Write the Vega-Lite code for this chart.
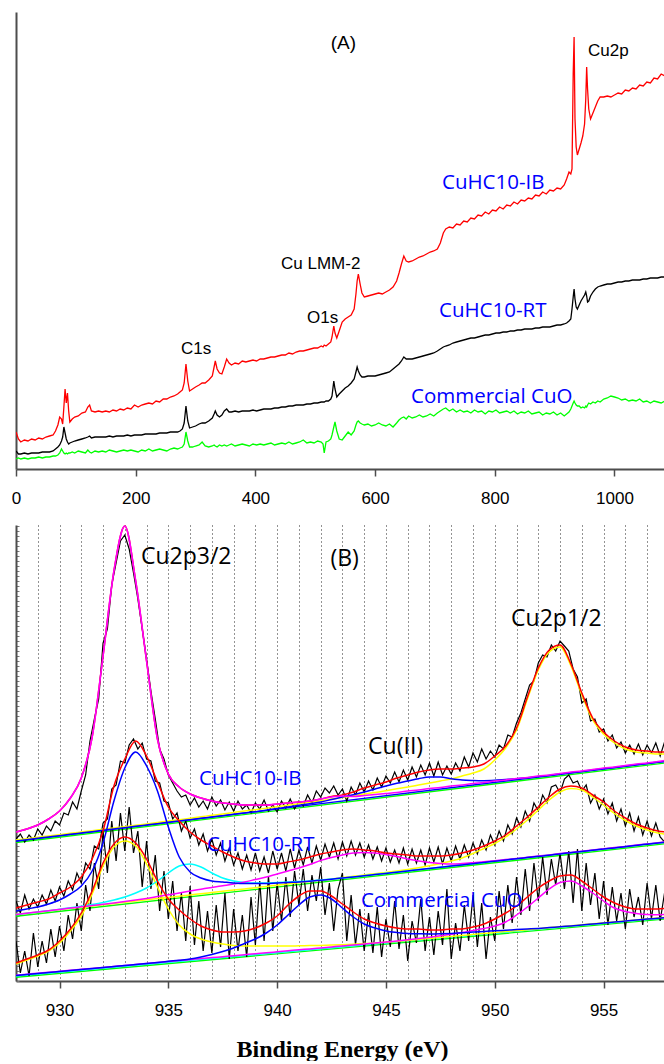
{
"$schema":"https://vega.github.io/schema/vega-lite/v6.json",
"background":"white",
"padding":{"left":11,"top":12,"right":0,"bottom":0},
"spacing":56,
"bounds":"flush",
"config":{"view":{"stroke":null},"axis":{"labelFont":"Liberation Sans","labelFontSize":17,"labelColor":"#000000","domainColor":"#4d4d4d","domainWidth":2,"tickColor":"#4d4d4d","tickWidth":1.5}},
"datasets":{
"a":[
{"x":0,"r":37,"k":18,"g":10},{"x":4,"r":30,"k":15,"g":11},{"x":8,"r":27,"k":15,"g":10},{"x":14,"r":29,"k":16,"g":11},{"x":20,"r":28,"k":15,"g":10},{"x":26,"r":30,"k":16,"g":11},{"x":32,"r":29,"k":16,"g":11},{"x":38,"r":31,"k":16,"g":12},{"x":44,"r":30,"k":17,"g":11},{"x":50,"r":32,"k":17,"g":12},{"x":56,"r":33,"k":17,"g":12},{"x":62,"r":34,"k":18,"g":13},{"x":66,"r":38,"k":20,"g":13},{"x":70,"r":44,"k":22,"g":14},{"x":73,"r":52,"k":24,"g":16},{"x":76,"r":50,"k":28,"g":20},{"x":78,"r":45,"k":32,"g":18},{"x":80,"r":62,"k":42,"g":16},{"x":82,"r":80,"k":36,"g":15},{"x":84,"r":66,"k":30,"g":16},{"x":86,"r":76,"k":27,"g":15},{"x":88,"r":58,"k":25,"g":16},{"x":90,"r":47,"k":26,"g":16},{"x":94,"r":50,"k":27,"g":17},{"x":98,"r":52,"k":28,"g":16},{"x":104,"r":53,"k":29,"g":18},{"x":110,"r":56,"k":30,"g":17},{"x":116,"r":57,"k":31,"g":16},{"x":120,"r":62,"k":32,"g":19},{"x":123,"r":64,"k":33,"g":17},{"x":126,"r":58,"k":31,"g":16},{"x":132,"r":57,"k":32,"g":18},{"x":138,"r":58,"k":32,"g":17},{"x":144,"r":57,"k":32,"g":18},{"x":150,"r":58,"k":32,"g":17},{"x":156,"r":57,"k":33,"g":19},{"x":162,"r":59,"k":32,"g":18},{"x":168,"r":58,"k":33,"g":17},{"x":174,"r":60,"k":33,"g":18},{"x":180,"r":59,"k":33,"g":19},{"x":186,"r":61,"k":34,"g":18},{"x":192,"r":60,"k":33,"g":19},{"x":198,"r":64,"k":34,"g":18},{"x":204,"r":62,"k":34,"g":17},{"x":210,"r":64,"k":34,"g":19},{"x":216,"r":65,"k":35,"g":18},{"x":222,"r":66,"k":35,"g":20},{"x":228,"r":65,"k":35,"g":18},{"x":234,"r":68,"k":35,"g":19},{"x":240,"r":67,"k":36,"g":20},{"x":246,"r":70,"k":36,"g":19},{"x":252,"r":70,"k":36,"g":18},{"x":258,"r":72,"k":37,"g":20},{"x":264,"r":73,"k":37,"g":21},{"x":270,"r":75,"k":37,"g":20},{"x":274,"r":77,"k":38,"g":21},{"x":278,"r":79,"k":40,"g":22},{"x":281,"r":86,"k":46,"g":25},{"x":284,"r":105,"k":63,"g":37},{"x":287,"r":88,"k":48,"g":28},{"x":290,"r":78,"k":41,"g":22},{"x":295,"r":80,"k":42,"g":22},{"x":300,"r":82,"k":43,"g":23},{"x":306,"r":84,"k":45,"g":24},{"x":311,"r":86,"k":46,"g":27},{"x":316,"r":86,"k":46,"g":23},{"x":322,"r":89,"k":48,"g":22},{"x":328,"r":93,"k":51,"g":23},{"x":331,"r":102,"k":55,"g":24},{"x":333,"r":108,"k":58,"g":23},{"x":336,"r":100,"k":54,"g":22},{"x":340,"r":96,"k":52,"g":24},{"x":344,"r":95,"k":54,"g":23},{"x":348,"r":102,"k":58,"g":24},{"x":352,"r":110,"k":60,"g":23},{"x":356,"r":106,"k":57,"g":24},{"x":360,"r":104,"k":57,"g":25},{"x":366,"r":106,"k":58,"g":23},{"x":372,"r":105,"k":57,"g":24},{"x":378,"r":108,"k":58,"g":25},{"x":384,"r":107,"k":58,"g":24},{"x":390,"r":108,"k":58,"g":23},{"x":396,"r":109,"k":59,"g":25},{"x":402,"r":108,"k":58,"g":24},{"x":408,"r":110,"k":59,"g":25},{"x":414,"r":110,"k":60,"g":24},{"x":420,"r":111,"k":60,"g":25},{"x":426,"r":112,"k":60,"g":26},{"x":432,"r":112,"k":61,"g":24},{"x":438,"r":113,"k":61,"g":25},{"x":444,"r":114,"k":62,"g":26},{"x":450,"r":114,"k":62,"g":25},{"x":456,"r":116,"k":63,"g":27},{"x":462,"r":115,"k":63,"g":25},{"x":468,"r":117,"k":64,"g":26},{"x":474,"r":118,"k":64,"g":27},{"x":480,"r":118,"k":64,"g":29},{"x":486,"r":119,"k":65,"g":26},{"x":492,"r":120,"k":65,"g":27},{"x":498,"r":121,"k":66,"g":26},{"x":504,"r":121,"k":66,"g":28},{"x":510,"r":123,"k":67,"g":27},{"x":513,"r":122,"k":67,"g":25},{"x":515,"r":124,"k":67,"g":16},{"x":518,"r":123,"k":68,"g":27},{"x":522,"r":125,"k":68,"g":28},{"x":526,"r":127,"k":70,"g":30},{"x":528,"r":132,"k":73,"g":34},{"x":531,"r":143,"k":88,"g":42},{"x":533,"r":136,"k":80,"g":47},{"x":536,"r":131,"k":72,"g":38},{"x":540,"r":138,"k":75,"g":30},{"x":545,"r":147,"k":78,"g":29},{"x":550,"r":150,"k":81,"g":33},{"x":555,"r":152,"k":83,"g":37},{"x":560,"r":154,"k":86,"g":34},{"x":565,"r":160,"k":90,"g":38},{"x":568,"r":175,"k":97,"g":44},{"x":570,"r":188,"k":102,"g":47},{"x":572,"r":195,"k":98,"g":48},{"x":575,"r":185,"k":94,"g":46},{"x":578,"r":176,"k":92,"g":45},{"x":582,"r":172,"k":92,"g":44},{"x":588,"r":173,"k":93,"g":45},{"x":594,"r":174,"k":93,"g":43},{"x":600,"r":175,"k":93,"g":44},{"x":606,"r":176,"k":94,"g":46},{"x":612,"r":175,"k":95,"g":44},{"x":618,"r":177,"k":96,"g":43},{"x":624,"r":179,"k":97,"g":45},{"x":630,"r":182,"k":100,"g":42},{"x":636,"r":188,"k":103,"g":46},{"x":640,"r":196,"k":105,"g":49},{"x":644,"r":205,"k":108,"g":51},{"x":648,"r":213,"k":112,"g":52},{"x":652,"r":208,"k":110,"g":50},{"x":656,"r":207,"k":110,"g":53},{"x":662,"r":208,"k":110,"g":51},{"x":668,"r":210,"k":111,"g":52},{"x":674,"r":212,"k":112,"g":54},{"x":680,"r":213,"k":113,"g":52},{"x":686,"r":215,"k":114,"g":53},{"x":692,"r":217,"k":115,"g":55},{"x":698,"r":218,"k":116,"g":53},{"x":704,"r":220,"k":118,"g":56},{"x":709,"r":226,"k":120,"g":58},{"x":714,"r":236,"k":122,"g":60},{"x":718,"r":240,"k":123,"g":61},{"x":724,"r":242,"k":124,"g":58},{"x":730,"r":241,"k":126,"g":60},{"x":736,"r":245,"k":127,"g":57},{"x":742,"r":244,"k":128,"g":59},{"x":748,"r":248,"k":129,"g":57},{"x":754,"r":247,"k":130,"g":58},{"x":760,"r":251,"k":131,"g":56},{"x":766,"r":250,"k":131,"g":59},{"x":772,"r":254,"k":132,"g":57},{"x":778,"r":253,"k":133,"g":58},{"x":784,"r":257,"k":134,"g":55},{"x":790,"r":255,"k":134,"g":58},{"x":796,"r":259,"k":135,"g":57},{"x":802,"r":258,"k":136,"g":59},{"x":808,"r":262,"k":136,"g":56},{"x":814,"r":260,"k":137,"g":57},{"x":820,"r":264,"k":137,"g":58},{"x":826,"r":263,"k":138,"g":56},{"x":832,"r":267,"k":138,"g":58},{"x":838,"r":265,"k":139,"g":55},{"x":844,"r":269,"k":139,"g":57},{"x":850,"r":268,"k":140,"g":56},{"x":856,"r":271,"k":140,"g":58},{"x":862,"r":270,"k":140,"g":55},{"x":868,"r":274,"k":141,"g":56},{"x":874,"r":273,"k":141,"g":57},{"x":880,"r":277,"k":142,"g":54},{"x":886,"r":275,"k":142,"g":56},{"x":892,"r":279,"k":142,"g":55},{"x":898,"r":278,"k":143,"g":57},{"x":904,"r":281,"k":144,"g":54},{"x":910,"r":280,"k":144,"g":56},{"x":916,"r":284,"k":145,"g":53},{"x":920,"r":290,"k":146,"g":55},{"x":924,"r":297,"k":148,"g":57},{"x":927,"r":295,"k":150,"g":60},{"x":929,"r":300,"k":160,"g":63},{"x":931,"r":395,"k":172,"g":66},{"x":932.5,"r":432,"k":180,"g":68},{"x":934,"r":350,"k":170,"g":66},{"x":936,"r":322,"k":162,"g":64},{"x":938,"r":314,"k":160,"g":63},{"x":941,"r":320,"k":164,"g":63},{"x":944,"r":326,"k":168,"g":61},{"x":947,"r":333,"k":171,"g":62},{"x":950,"r":345,"k":174,"g":61},{"x":952,"r":370,"k":177,"g":63},{"x":953.5,"r":402,"k":173,"g":62},{"x":955,"r":380,"k":167,"g":64},{"x":957,"r":360,"k":168,"g":66},{"x":960,"r":350,"k":173,"g":65},{"x":964,"r":356,"k":177,"g":67},{"x":968,"r":362,"k":180,"g":66},{"x":972,"r":368,"k":182,"g":68},{"x":976,"r":372,"k":183,"g":67},{"x":982,"r":372,"k":184,"g":70},{"x":988,"r":373,"k":185,"g":71},{"x":994,"r":372,"k":185,"g":73},{"x":1000,"r":374,"k":186,"g":72},{"x":1006,"r":376,"k":187,"g":71},{"x":1012,"r":375,"k":187,"g":69},{"x":1018,"r":379,"k":188,"g":70},{"x":1024,"r":378,"k":188,"g":68},{"x":1030,"r":381,"k":189,"g":69},{"x":1036,"r":380,"k":189,"g":68},{"x":1042,"r":384,"k":189,"g":70},{"x":1048,"r":383,"k":190,"g":67},{"x":1054,"r":387,"k":190,"g":68},{"x":1060,"r":386,"k":191,"g":66},{"x":1066,"r":391,"k":191,"g":68},{"x":1072,"r":390,"k":191,"g":67},{"x":1078,"r":395,"k":192,"g":66},{"x":1084,"r":393,"k":192,"g":68},{"x":1089,"r":397,"k":192,"g":67}
],
"ta1":[{"x":955.7,"y":413,"t":"Cu2p"},{"x":442.8,"y":200,"t":"Cu LMM-2"},{"x":486.2,"y":146,"t":"O1s"},{"x":275.7,"y":115,"t":"C1s"}],
"ta2":[{"x":525.8,"y":420,"t":"(A)"}],
"ta3":[{"x":711.8,"y":280.5,"t":"CuHC10-IB"},{"x":706.8,"y":151.7,"t":"CuHC10-RT"},{"x":660,"y":66,"t":"Commercial CuO"}],
"braw":[
{"x":928.0,"ib":142,"rt":80,"cu":40},{"x":928.2,"ib":147,"rt":68,"cu":8},{"x":928.4,"ib":139,"rt":86,"cu":30},{"x":928.6,"ib":146,"rt":72,"cu":5},{"x":928.8,"ib":141,"rt":82,"cu":48},{"x":929.0,"ib":152,"rt":74,"cu":14},{"x":929.2,"ib":146,"rt":86,"cu":40},{"x":929.4,"ib":155,"rt":77,"cu":18},{"x":929.6,"ib":150,"rt":91,"cu":52},{"x":929.8,"ib":160,"rt":80,"cu":24},
{"x":930.0,"ib":156,"rt":94,"cu":55},{"x":930.2,"ib":168,"rt":85,"cu":30},{"x":930.4,"ib":166,"rt":100,"cu":66},{"x":930.6,"ib":179,"rt":91,"cu":42},{"x":930.8,"ib":172,"rt":108,"cu":78},{"x":931.0,"ib":190,"rt":98,"cu":50},{"x":931.2,"ib":206,"rt":118,"cu":96},{"x":931.4,"ib":240,"rt":112,"cu":70},{"x":931.6,"ib":262,"rt":135,"cu":118},{"x":931.8,"ib":282,"rt":132,"cu":92},
{"x":932.0,"ib":338,"rt":158,"cu":150},{"x":932.2,"ib":352,"rt":162,"cu":108},{"x":932.4,"ib":396,"rt":192,"cu":160},{"x":932.6,"ib":418,"rt":196,"cu":120},{"x":932.8,"ib":440,"rt":220,"cu":168},{"x":933.0,"ib":446,"rt":218,"cu":130},{"x":933.2,"ib":432,"rt":236,"cu":174},{"x":933.4,"ib":408,"rt":242,"cu":128},{"x":933.6,"ib":382,"rt":232,"cu":150},{"x":933.8,"ib":352,"rt":238,"cu":94},
{"x":934.0,"ib":322,"rt":222,"cu":140},{"x":934.2,"ib":290,"rt":220,"cu":92},{"x":934.4,"ib":262,"rt":200,"cu":126},{"x":934.6,"ib":232,"rt":198,"cu":70},{"x":934.8,"ib":222,"rt":180,"cu":110},{"x":935.0,"ib":206,"rt":178,"cu":62},{"x":935.2,"ib":198,"rt":162,"cu":100},{"x":935.4,"ib":190,"rt":168,"cu":50},{"x":935.6,"ib":184,"rt":150,"cu":88},{"x":935.8,"ib":186,"rt":160,"cu":40},
{"x":936.0,"ib":176,"rt":143,"cu":95},{"x":936.2,"ib":183,"rt":152,"cu":36},{"x":936.4,"ib":174,"rt":136,"cu":80},{"x":936.6,"ib":180,"rt":147,"cu":30},{"x":936.8,"ib":172,"rt":130,"cu":70},{"x":937.0,"ib":184,"rt":142,"cu":28},{"x":937.2,"ib":175,"rt":126,"cu":76},{"x":937.4,"ib":181,"rt":138,"cu":34},{"x":937.6,"ib":171,"rt":120,"cu":88},{"x":937.8,"ib":179,"rt":133,"cu":22},
{"x":938.0,"ib":170,"rt":116,"cu":72},{"x":938.2,"ib":180,"rt":128,"cu":30},{"x":938.4,"ib":172,"rt":112,"cu":66},{"x":938.6,"ib":176,"rt":126,"cu":24},{"x":938.8,"ib":168,"rt":111,"cu":84},{"x":939.0,"ib":178,"rt":128,"cu":36},{"x":939.2,"ib":172,"rt":110,"cu":100},{"x":939.4,"ib":181,"rt":124,"cu":40},{"x":939.6,"ib":170,"rt":108,"cu":105},{"x":939.8,"ib":176,"rt":130,"cu":50},
{"x":940.0,"ib":169,"rt":112,"cu":98},{"x":940.2,"ib":180,"rt":128,"cu":60},{"x":940.4,"ib":173,"rt":110,"cu":104},{"x":940.6,"ib":182,"rt":132,"cu":64},{"x":940.8,"ib":172,"rt":113,"cu":110},{"x":941.0,"ib":180,"rt":131,"cu":76},{"x":941.2,"ib":175,"rt":116,"cu":112},{"x":941.4,"ib":186,"rt":134,"cu":70},{"x":941.6,"ib":178,"rt":118,"cu":106},{"x":941.8,"ib":190,"rt":135,"cu":80},
{"x":942.0,"ib":184,"rt":121,"cu":114},{"x":942.2,"ib":193,"rt":137,"cu":66},{"x":942.4,"ib":188,"rt":124,"cu":98},{"x":942.6,"ib":195,"rt":138,"cu":50},{"x":942.8,"ib":186,"rt":122,"cu":92},{"x":943.0,"ib":192,"rt":139,"cu":108},{"x":943.2,"ib":180,"rt":125,"cu":40},{"x":943.4,"ib":194,"rt":140,"cu":86},{"x":943.6,"ib":186,"rt":126,"cu":36},{"x":943.8,"ib":198,"rt":138,"cu":72},
{"x":944.0,"ib":189,"rt":124,"cu":30},{"x":944.2,"ib":200,"rt":136,"cu":68},{"x":944.4,"ib":191,"rt":122,"cu":28},{"x":944.6,"ib":203,"rt":134,"cu":74},{"x":944.8,"ib":194,"rt":120,"cu":24},{"x":945.0,"ib":205,"rt":133,"cu":62},{"x":945.2,"ib":198,"rt":119,"cu":34},{"x":945.4,"ib":209,"rt":131,"cu":80},{"x":945.6,"ib":199,"rt":118,"cu":32},{"x":945.8,"ib":211,"rt":133,"cu":66},
{"x":946.0,"ib":201,"rt":117,"cu":20},{"x":946.2,"ib":214,"rt":132,"cu":60},{"x":946.4,"ib":204,"rt":118,"cu":38},{"x":946.6,"ib":216,"rt":131,"cu":82},{"x":946.8,"ib":206,"rt":116,"cu":30},{"x":947.0,"ib":218,"rt":133,"cu":64},{"x":947.2,"ib":205,"rt":119,"cu":26},{"x":947.4,"ib":219,"rt":134,"cu":70},{"x":947.6,"ib":206,"rt":117,"cu":36},{"x":947.8,"ib":215,"rt":133,"cu":92},
{"x":948.0,"ib":207,"rt":120,"cu":22},{"x":948.2,"ib":218,"rt":135,"cu":58},{"x":948.4,"ib":210,"rt":122,"cu":30},{"x":948.6,"ib":224,"rt":136,"cu":76},{"x":948.8,"ib":214,"rt":124,"cu":40},{"x":949.0,"ib":228,"rt":138,"cu":86},{"x":949.2,"ib":219,"rt":127,"cu":34},{"x":949.4,"ib":232,"rt":141,"cu":78},{"x":949.6,"ib":222,"rt":131,"cu":22},{"x":949.8,"ib":230,"rt":146,"cu":64},
{"x":950.0,"ib":224,"rt":136,"cu":40},{"x":950.2,"ib":236,"rt":150,"cu":90},{"x":950.4,"ib":232,"rt":140,"cu":52},{"x":950.6,"ib":246,"rt":156,"cu":96},{"x":950.8,"ib":244,"rt":147,"cu":58},{"x":951.0,"ib":258,"rt":163,"cu":104},{"x":951.2,"ib":268,"rt":154,"cu":66},{"x":951.4,"ib":282,"rt":170,"cu":112},{"x":951.6,"ib":296,"rt":160,"cu":70},{"x":951.8,"ib":300,"rt":178,"cu":118},
{"x":952.0,"ib":318,"rt":170,"cu":80},{"x":952.2,"ib":326,"rt":186,"cu":124},{"x":952.4,"ib":324,"rt":178,"cu":86},{"x":952.6,"ib":336,"rt":194,"cu":122},{"x":952.8,"ib":330,"rt":196,"cu":96},{"x":953.0,"ib":340,"rt":188,"cu":128},{"x":953.2,"ib":335,"rt":202,"cu":92},{"x":953.4,"ib":330,"rt":206,"cu":130},{"x":953.6,"ib":312,"rt":198,"cu":78},{"x":953.8,"ib":304,"rt":200,"cu":132},
{"x":954.0,"ib":278,"rt":190,"cu":70},{"x":954.2,"ib":282,"rt":196,"cu":118},{"x":954.4,"ib":260,"rt":178,"cu":76},{"x":954.6,"ib":262,"rt":186,"cu":108},{"x":954.8,"ib":249,"rt":172,"cu":62},{"x":955.0,"ib":252,"rt":182,"cu":100},{"x":955.2,"ib":240,"rt":167,"cu":56},{"x":955.4,"ib":246,"rt":178,"cu":94},{"x":955.6,"ib":233,"rt":160,"cu":60},{"x":955.8,"ib":239,"rt":172,"cu":88},
{"x":956.0,"ib":228,"rt":155,"cu":52},{"x":956.2,"ib":236,"rt":168,"cu":92},{"x":956.4,"ib":227,"rt":150,"cu":64},{"x":956.6,"ib":237,"rt":164,"cu":84},{"x":956.8,"ib":226,"rt":146,"cu":56},{"x":957.0,"ib":236,"rt":160,"cu":98},{"x":957.2,"ib":228,"rt":145,"cu":62},{"x":957.4,"ib":238,"rt":158,"cu":96},{"x":957.6,"ib":225,"rt":144,"cu":60},{"x":957.8,"ib":239,"rt":139,"cu":88},
{"x":958.0,"ib":230,"rt":152,"cu":66}
],
"bfit":[
{"x":928,"ibE":149,"ibM":149,"ibY":141,"ibB":140,"rtE":73,"rtB":70,"rtC":66.5,"rtM":66.5,"rtY":66.8,"cuE":18,"cuY":17,"cuB":5.5,"cuM":5.8},
{"x":928.5,"ibE":152,"ibM":152,"ibY":142.3,"ibB":141.3,"rtE":76,"rtB":72,"rtC":67.7,"rtM":67.8,"rtY":67.8,"cuE":22,"cuY":21,"cuB":6.5,"cuM":6.8},
{"x":929,"ibE":156,"ibM":156,"ibY":143.7,"ibB":142.7,"rtE":79,"rtB":74,"rtC":69,"rtM":69,"rtY":69,"cuE":26,"cuY":25,"cuB":7.5,"cuM":7.8},
{"x":929.5,"ibE":162,"ibM":162,"ibY":145,"ibB":144,"rtE":82,"rtB":77,"rtC":70.3,"rtM":70.3,"rtY":70.2,"cuE":31,"cuY":30,"cuB":8.5,"cuM":8.7},
{"x":930,"ibE":170,"ibM":170,"ibY":146.3,"ibB":145.3,"rtE":88,"rtB":81,"rtC":71.8,"rtM":71.6,"rtY":71.5,"cuE":40,"cuY":38,"cuB":9.5,"cuM":9.7},
{"x":930.5,"ibE":183,"ibM":183,"ibY":147.7,"ibB":146.7,"rtE":94,"rtB":87,"rtC":73.2,"rtM":72.9,"rtY":72.7,"cuE":52,"cuY":50,"cuB":10.5,"cuM":10.7},
{"x":931,"ibE":203,"ibM":203,"ibY":149,"ibB":148,"rtE":104,"rtB":95,"rtC":74.8,"rtM":74.2,"rtY":73.9,"cuE":68,"cuY":65,"cuB":11.5,"cuM":11.7},
{"x":931.5,"ibE":244,"ibM":244,"ibY":150.3,"ibB":149.3,"rtE":122,"rtB":110,"rtC":76.5,"rtM":75.4,"rtY":75.1,"cuE":90,"cuY":87,"cuB":12.5,"cuM":12.6},
{"x":932,"ibE":325,"ibM":325,"ibY":151.7,"ibB":150.7,"rtE":150,"rtB":138,"rtC":78.5,"rtM":76.7,"rtY":76.3,"cuE":118,"cuY":115,"cuB":13.5,"cuM":13.6},
{"x":932.5,"ibE":410,"ibM":410,"ibY":153,"ibB":152,"rtE":195,"rtB":180,"rtC":81,"rtM":78,"rtY":77.5,"cuE":137,"cuY":134,"cuB":14.5,"cuM":14.6},
{"x":933,"ibE":455,"ibM":455,"ibY":154.3,"ibB":153.3,"rtE":222,"rtB":213,"rtC":84,"rtM":79.4,"rtY":78.8,"cuE":144,"cuY":140,"cuB":15.5,"cuM":15.6},
{"x":933.5,"ibE":400,"ibM":400,"ibY":155.7,"ibB":154.7,"rtE":240,"rtB":229,"rtC":88,"rtM":81,"rtY":80,"cuE":138,"cuY":135,"cuB":16.5,"cuM":16.5},
{"x":934,"ibE":320,"ibM":320,"ibY":157,"ibB":156,"rtE":225,"rtB":215,"rtC":93,"rtM":82.6,"rtY":81.2,"cuE":122,"cuY":117,"cuB":17.6,"cuM":17.5},
{"x":934.5,"ibE":242,"ibM":242,"ibY":158.5,"ibB":157.3,"rtE":199,"rtB":190,"rtC":100,"rtM":84.4,"rtY":82.4,"cuE":100,"cuY":94,"cuB":18.6,"cuM":18.5},
{"x":935,"ibE":207,"ibM":207,"ibY":160,"ibB":158.7,"rtE":174,"rtB":154,"rtC":108,"rtM":86.2,"rtY":83.6,"cuE":82,"cuY":72,"cuB":19.7,"cuM":19.5},
{"x":935.5,"ibE":194,"ibM":194,"ibY":161.3,"ibB":160,"rtE":160,"rtB":124,"rtC":115,"rtM":88,"rtY":84.8,"cuE":71,"cuY":56,"cuB":20.8,"cuM":20.4},
{"x":936,"ibE":187,"ibM":187,"ibY":162.8,"ibB":161.3,"rtE":149,"rtB":109,"rtC":117,"rtM":90,"rtY":86,"cuE":62,"cuY":47,"cuB":22,"cuM":21.4},
{"x":936.5,"ibE":183,"ibM":183,"ibY":164.2,"ibB":162.7,"rtE":141,"rtB":103,"rtC":114,"rtM":91.8,"rtY":87.3,"cuE":55,"cuY":42,"cuB":24,"cuM":22.4},
{"x":937,"ibE":180,"ibM":180,"ibY":165.7,"ibB":164,"rtE":135,"rtB":100,"rtC":108,"rtM":93.6,"rtY":88.5,"cuE":51,"cuY":39,"cuB":26.5,"cuM":23.4},
{"x":937.5,"ibE":178,"ibM":178,"ibY":167,"ibB":165.3,"rtE":129,"rtB":99,"rtC":103,"rtM":95.3,"rtY":89.7,"cuE":49,"cuY":37,"cuB":29.5,"cuM":24.3},
{"x":938,"ibE":177,"ibM":177,"ibY":168.5,"ibB":166.7,"rtE":124,"rtB":98,"rtC":100,"rtM":97,"rtY":90.9,"cuE":49,"cuY":35.5,"cuB":33,"cuM":25.3},
{"x":938.5,"ibE":176,"ibM":176,"ibY":170,"ibB":168,"rtE":120,"rtB":97.5,"rtC":98.5,"rtM":99,"rtY":92.1,"cuE":50,"cuY":35,"cuB":37.5,"cuM":26.3},
{"x":939,"ibE":176,"ibM":176,"ibY":171.3,"ibB":169.3,"rtE":118,"rtB":97.5,"rtC":98,"rtM":101.5,"rtY":93.3,"cuE":53,"cuY":35,"cuB":42,"cuM":27.3},
{"x":939.5,"ibE":176,"ibM":176,"ibY":172.8,"ibB":170.7,"rtE":117,"rtB":97.5,"rtC":98,"rtM":104,"rtY":94.6,"cuE":58,"cuY":35,"cuB":48,"cuM":28.2},
{"x":940,"ibE":177,"ibM":177,"ibY":174.2,"ibB":172.5,"rtE":117,"rtB":98,"rtC":98.5,"rtM":107,"rtY":95.8,"cuE":65,"cuY":35,"cuB":56,"cuM":29.2},
{"x":940.5,"ibE":178,"ibM":178,"ibY":175.7,"ibB":174,"rtE":119,"rtB":98.5,"rtC":99,"rtM":110,"rtY":97,"cuE":76,"cuY":35,"cuB":66,"cuM":30.2},
{"x":941,"ibE":179,"ibM":179,"ibY":177.2,"ibB":175.7,"rtE":121,"rtB":99,"rtC":99.5,"rtM":113,"rtY":98.3,"cuE":85,"cuY":35.2,"cuB":76,"cuM":31.2},
{"x":941.5,"ibE":180,"ibM":180,"ibY":178.7,"ibB":177.3,"rtE":124,"rtB":99.8,"rtC":100,"rtM":116.5,"rtY":99.5,"cuE":90,"cuY":35.4,"cuB":84,"cuM":32.1},
{"x":942,"ibE":182,"ibM":182,"ibY":180.3,"ibB":179,"rtE":127,"rtB":100.8,"rtC":101,"rtM":120.5,"rtY":100.8,"cuE":90,"cuY":35.6,"cuB":86,"cuM":33.1},
{"x":942.5,"ibE":184.5,"ibM":184,"ibY":181.9,"ibB":181.5,"rtE":129,"rtB":101.8,"rtC":102,"rtM":123.5,"rtY":102,"cuE":85,"cuY":35.9,"cuB":82,"cuM":34.1},
{"x":943,"ibE":186,"ibM":185,"ibY":183.5,"ibB":184,"rtE":131,"rtB":103,"rtC":103,"rtM":126,"rtY":103.4,"cuE":77,"cuY":36.3,"cuB":73,"cuM":35.1},
{"x":943.5,"ibE":189,"ibM":184.5,"ibY":185.2,"ibB":186.3,"rtE":132,"rtB":104,"rtC":104.1,"rtM":128,"rtY":104.7,"cuE":69,"cuY":36.8,"cuB":64,"cuM":36},
{"x":944,"ibE":193,"ibM":185.5,"ibY":187,"ibB":189,"rtE":131,"rtB":105.2,"rtC":105.3,"rtM":128.5,"rtY":106,"cuE":62,"cuY":37.4,"cuB":57,"cuM":37},
{"x":944.5,"ibE":196,"ibM":186.5,"ibY":188.5,"ibB":192,"rtE":130,"rtB":106.4,"rtC":106.5,"rtM":128,"rtY":107.3,"cuE":58,"cuY":38,"cuB":53,"cuM":38},
{"x":945,"ibE":199,"ibM":187.5,"ibY":190.3,"ibB":195,"rtE":128,"rtB":107.6,"rtC":107.7,"rtM":126.5,"rtY":108.6,"cuE":55,"cuY":38.7,"cuB":50,"cuM":39},
{"x":945.5,"ibE":203,"ibM":188.5,"ibY":192.2,"ibB":197.7,"rtE":127,"rtB":108.8,"rtC":108.9,"rtM":124.5,"rtY":110,"cuE":53,"cuY":39.6,"cuB":48.5,"cuM":40},
{"x":946,"ibE":206,"ibM":190,"ibY":194,"ibB":200,"rtE":126,"rtB":110,"rtC":110.1,"rtM":122,"rtY":111.5,"cuE":52,"cuY":40.6,"cuB":47.5,"cuM":41.2},
{"x":946.5,"ibE":209,"ibM":191,"ibY":196,"ibB":202.3,"rtE":125,"rtB":111.3,"rtC":111.4,"rtM":120,"rtY":113.2,"cuE":52,"cuY":41.6,"cuB":47.2,"cuM":42.5},
{"x":947,"ibE":211,"ibM":192.5,"ibY":198,"ibB":204,"rtE":125,"rtB":112.5,"rtC":112.6,"rtM":118.5,"rtY":115.2,"cuE":51,"cuY":42.6,"cuB":47,"cuM":43.8},
{"x":947.5,"ibE":212,"ibM":193.5,"ibY":200,"ibB":204,"rtE":125,"rtB":113.7,"rtC":113.8,"rtM":117.5,"rtY":117.5,"cuE":51,"cuY":43.5,"cuB":47.2,"cuM":45.2},
{"x":948,"ibE":212,"ibM":195,"ibY":202,"ibB":202.3,"rtE":126,"rtB":114.9,"rtC":115,"rtM":117,"rtY":120,"cuE":52,"cuY":44.5,"cuB":47.6,"cuM":46.8},
{"x":948.5,"ibE":213,"ibM":196,"ibY":205,"ibB":201,"rtE":128,"rtB":116.1,"rtC":116.2,"rtM":117.5,"rtY":123,"cuE":52,"cuY":45.5,"cuB":48.2,"cuM":48.5},
{"x":949,"ibE":214,"ibM":197.5,"ibY":208,"ibB":200.5,"rtE":131,"rtB":117.3,"rtC":117.4,"rtM":118.3,"rtY":127.5,"cuE":54,"cuY":46.5,"cuB":49,"cuM":50.5},
{"x":949.5,"ibE":217,"ibM":198.5,"ibY":212,"ibB":200.3,"rtE":135,"rtB":118.5,"rtC":118.6,"rtM":119.2,"rtY":132.5,"cuE":57,"cuY":47.4,"cuB":49.5,"cuM":52.5},
{"x":950,"ibE":225,"ibM":200,"ibY":221,"ibB":200.7,"rtE":140,"rtB":119.8,"rtC":119.9,"rtM":120.3,"rtY":137.5,"cuE":62,"cuY":48.4,"cuB":50.2,"cuM":55},
{"x":950.5,"ibE":235,"ibM":201,"ibY":233,"ibB":201.5,"rtE":146,"rtB":121,"rtC":121.1,"rtM":121.4,"rtY":144,"cuE":68,"cuY":49.4,"cuB":50.8,"cuM":59},
{"x":951,"ibE":253,"ibM":202.5,"ibY":251,"ibB":202.3,"rtE":155,"rtB":122.2,"rtC":122.3,"rtM":122.5,"rtY":152,"cuE":75,"cuY":50.4,"cuB":51.4,"cuM":66},
{"x":951.5,"ibE":284,"ibM":203.5,"ibY":282,"ibB":203.2,"rtE":164,"rtB":123.4,"rtC":123.5,"rtM":123.7,"rtY":161,"cuE":84,"cuY":51.3,"cuB":52,"cuM":74},
{"x":952,"ibE":313,"ibM":205,"ibY":311,"ibB":204.5,"rtE":174,"rtB":124.6,"rtC":124.7,"rtM":124.9,"rtY":171,"cuE":93,"cuY":52.3,"cuB":52.6,"cuM":83},
{"x":952.5,"ibE":331,"ibM":206,"ibY":329,"ibB":205.6,"rtE":184,"rtB":125.8,"rtC":125.9,"rtM":126.1,"rtY":181,"cuE":100,"cuY":53.3,"cuB":53.4,"cuM":92},
{"x":953,"ibE":336,"ibM":207.5,"ibY":334,"ibB":207,"rtE":192,"rtB":127.1,"rtC":127.2,"rtM":127.4,"rtY":189,"cuE":105,"cuY":54.3,"cuB":54.3,"cuM":98.5},
{"x":953.5,"ibE":317,"ibM":209,"ibY":315,"ibB":208.3,"rtE":195,"rtB":128.3,"rtC":128.4,"rtM":128.6,"rtY":192.5,"cuE":106,"cuY":55.2,"cuB":55.1,"cuM":100},
{"x":954,"ibE":288,"ibM":210,"ibY":286,"ibB":209.6,"rtE":193,"rtB":129.5,"rtC":129.6,"rtM":129.8,"rtY":191,"cuE":100,"cuY":56.2,"cuB":56,"cuM":95},
{"x":954.5,"ibE":263,"ibM":211.5,"ibY":261,"ibB":211,"rtE":186,"rtB":130.7,"rtC":130.8,"rtM":131,"rtY":184,"cuE":92,"cuY":57.2,"cuB":57,"cuM":88},
{"x":955,"ibE":249,"ibM":213,"ibY":247,"ibB":212.2,"rtE":179,"rtB":131.9,"rtC":132,"rtM":132.2,"rtY":176,"cuE":84,"cuY":58.2,"cuB":58,"cuM":80},
{"x":955.5,"ibE":240,"ibM":214,"ibY":238,"ibB":213.5,"rtE":170,"rtB":133.1,"rtC":133.2,"rtM":133.4,"rtY":167.5,"cuE":78,"cuY":59.1,"cuB":58.9,"cuM":73},
{"x":956,"ibE":234,"ibM":215.5,"ibY":232,"ibB":214.9,"rtE":163,"rtB":134.3,"rtC":134.4,"rtM":134.6,"rtY":160.5,"cuE":74,"cuY":60.1,"cuB":59.9,"cuM":69.5},
{"x":956.5,"ibE":231,"ibM":217,"ibY":229,"ibB":216.2,"rtE":157,"rtB":135.6,"rtC":135.7,"rtM":135.9,"rtY":155,"cuE":72,"cuY":61.1,"cuB":60.9,"cuM":67.5},
{"x":957,"ibE":230,"ibM":218,"ibY":228,"ibB":217.5,"rtE":153,"rtB":136.8,"rtC":136.9,"rtM":137.1,"rtY":151,"cuE":72,"cuY":62.1,"cuB":61.9,"cuM":66.5},
{"x":957.5,"ibE":229,"ibM":219.5,"ibY":227,"ibB":218.9,"rtE":150,"rtB":138,"rtC":138.1,"rtM":138.3,"rtY":148,"cuE":72,"cuY":63,"cuB":62.8,"cuM":66.3},
{"x":958,"ibE":229,"ibM":221,"ibY":227,"ibB":220.2,"rtE":149,"rtB":139.2,"rtC":139.3,"rtM":139.5,"rtY":146.5,"cuE":73,"cuY":64,"cuB":63.8,"cuM":66.5}
],
"bbase":[
{"x":928,"y":138.5,"id":"ig","c":"g"},{"x":958,"y":218.5,"id":"ig","c":"g"},
{"x":928,"y":140,"id":"ib","c":"b"},{"x":958,"y":220,"id":"ib","c":"b"},
{"x":928,"y":64.8,"id":"rg","c":"g"},{"x":958,"y":137.7,"id":"rg","c":"g"},
{"x":928,"y":3.8,"id":"cg","c":"g"},{"x":958,"y":62.3,"id":"cg","c":"g"},
{"x":928,"y":5,"id":"cc","c":"c"},{"x":958,"y":63.5,"id":"cc","c":"c"}
],
"tb1":[{"x":933.74,"y":417,"t":"Cu2p3/2"},{"x":950.75,"y":355,"t":"Cu2p1/2"},{"x":944.18,"y":227,"t":"Cu(II)"},{"x":942.45,"y":415,"t":"(B)"}],
"tb2":[{"x":936.41,"y":196,"t":"CuHC10-IB"},{"x":936.78,"y":130,"t":"CuHC10-RT"},{"x":943.85,"y":74,"t":"Commercial CuO"}]
},
"vconcat":[
{
"width":652,"height":457,
"encoding":{
"x":{"field":"x","type":"quantitative","scale":{"domain":[0,1089.4],"nice":false,"zero":false},"axis":{"values":[0,200,400,600,800,1000],"format":"d","title":null,"grid":false,"tickSize":7,"labelPadding":14,"labelFlush":false,"labelOverlap":false}},
"y":{"field":"y","type":"quantitative","scale":{"domain":[0,457],"nice":false,"zero":false},"axis":{"title":null,"labels":false,"ticks":false,"grid":false}}
},
"layer":[
{"data":{"name":"a"},"transform":[{"fold":["r","k","g"],"as":["s","y"]}],"mark":{"type":"line","strokeWidth":1.3,"clip":true},
"encoding":{"color":{"field":"s","type":"nominal","scale":{"domain":["g","k","r"],"range":["#00ff00","#000000","#ff0000"]},"legend":null}}},
{"data":{"values":[{}]},"mark":{"type":"rule","color":"#4d4d4d","strokeWidth":2},"encoding":{"x":{"datum":0},"x2":{"datum":1089.4},"y":{"datum":457}}},
{"data":{"name":"ta1"},"mark":{"type":"text","align":"left","baseline":"alphabetic","font":"Liberation Sans","fontSize":17,"color":"#000000"},"encoding":{"text":{"field":"t"}}},
{"data":{"name":"ta2"},"mark":{"type":"text","align":"left","baseline":"alphabetic","font":"Liberation Sans","fontSize":19,"color":"#000000"},"encoding":{"text":{"field":"t"}}},
{"data":{"name":"ta3"},"mark":{"type":"text","align":"left","baseline":"alphabetic","font":"Open Sans","fontSize":20.5,"color":"#0000ff"},"encoding":{"text":{"field":"t"}}}
]
},
{
"width":652,"height":456,
"encoding":{
"x":{"field":"x","type":"quantitative","scale":{"domain":[928,957.96],"nice":false,"zero":false},"axis":{"values":[929,930,931,932,933,934,935,936,937,938,939,940,941,942,943,944,945,946,947,948,949,950,951,952,953,954,955,956,957],"title":"Binding Energy (eV)","titleFont":"Liberation Serif","titleFontSize":24,"titleFontWeight":"bold","titleColor":"#000000","titlePadding":19,"grid":true,"gridDash":[1,3],"gridColor":"#000000","gridOpacity":0.85,"gridWidth":1,"tickSize":7,"tickOpacity":{"condition":{"test":"datum.value % 5 === 0","value":1},"value":0},"labelExpr":"datum.value % 5 === 0 ? datum.label : ''","labelPadding":14,"labelFlush":false,"labelOverlap":false}},
"y":{"field":"y","type":"quantitative","scale":{"domain":[0,456],"nice":false,"zero":false},"axis":{"title":null,"labels":false,"grid":false,"ticks":true,"tickSize":-3,"tickCount":100,"tickColor":"#777777","tickWidth":1}}
},
"layer":[
{"data":{"name":"bbase"},"transform":[{"filter":"datum.c === 'g'"}],"mark":{"type":"line","color":"#00ff00","strokeWidth":1.4,"clip":true},"encoding":{"detail":{"field":"id"}}},
{"data":{"name":"bbase"},"transform":[{"filter":"datum.c === 'c'"}],"mark":{"type":"line","color":"#00ffff","strokeWidth":1.4,"clip":true},"encoding":{"detail":{"field":"id"}}},
{"data":{"name":"bbase"},"transform":[{"filter":"datum.c === 'b'"}],"mark":{"type":"line","color":"#0000ff","strokeWidth":1.4,"clip":true},"encoding":{"detail":{"field":"id"}}},
{"data":{"name":"braw"},"transform":[{"fold":["ib","rt","cu"],"as":["s","y"]}],"mark":{"type":"line","color":"#000000","strokeWidth":1.2,"clip":true},"encoding":{"detail":{"field":"s"}}},
{"data":{"name":"bfit"},"transform":[{"fold":["ibY","rtY","cuY"],"as":["s","y"]}],"mark":{"type":"line","color":"#ffff00","strokeWidth":1.5,"interpolate":"monotone","clip":true},"encoding":{"detail":{"field":"s"}}},
{"data":{"name":"bfit"},"transform":[{"fold":["rtC"],"as":["s","y"]}],"mark":{"type":"line","color":"#00ffff","strokeWidth":1.5,"interpolate":"monotone","clip":true},"encoding":{"detail":{"field":"s"}}},
{"data":{"name":"bfit"},"transform":[{"fold":["rtM","cuM"],"as":["s","y"]}],"mark":{"type":"line","color":"#ff00ff","strokeWidth":1.5,"interpolate":"monotone","clip":true},"encoding":{"detail":{"field":"s"}}},
{"data":{"name":"bfit"},"transform":[{"fold":["ibB","rtB","cuB"],"as":["s","y"]}],"mark":{"type":"line","color":"#0000ff","strokeWidth":1.5,"interpolate":"monotone","clip":true},"encoding":{"detail":{"field":"s"}}},
{"data":{"name":"bfit"},"transform":[{"fold":["ibE","rtE","cuE"],"as":["s","y"]}],"mark":{"type":"line","color":"#ff0000","strokeWidth":1.5,"interpolate":"monotone","clip":true},"encoding":{"detail":{"field":"s"}}},
{"data":{"name":"bfit"},"transform":[{"fold":["ibM"],"as":["s","y"]}],"mark":{"type":"line","color":"#ff00ff","strokeWidth":1.6,"interpolate":"monotone","clip":true},"encoding":{"detail":{"field":"s"}}},
{"data":{"values":[{}]},"mark":{"type":"rule","color":"#4d4d4d","strokeWidth":2},"encoding":{"x":{"datum":928},"x2":{"datum":957.96},"y":{"datum":456}}},
{"data":{"name":"tb1"},"mark":{"type":"text","align":"left","baseline":"alphabetic","font":"Open Sans","fontSize":23,"color":"#000000"},"encoding":{"text":{"field":"t"}}},
{"data":{"name":"tb2"},"mark":{"type":"text","align":"left","baseline":"alphabetic","font":"Open Sans","fontSize":20.5,"color":"#0000ff"},"encoding":{"text":{"field":"t"}}}
]
}
]
}
